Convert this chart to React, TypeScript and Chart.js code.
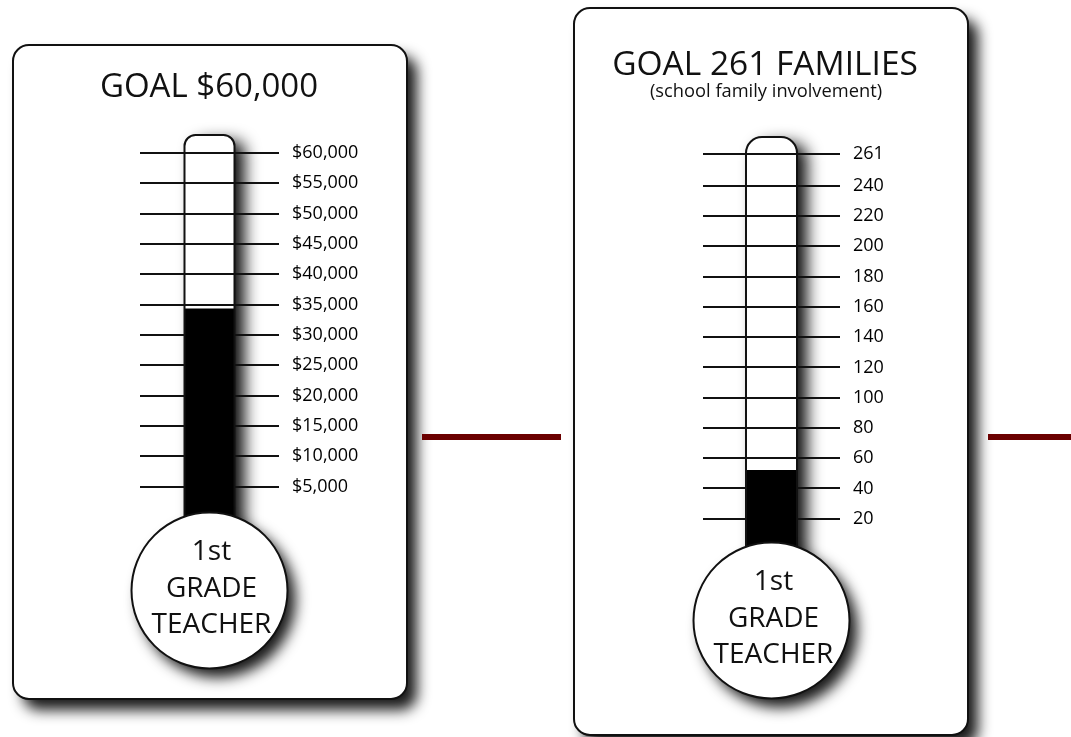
import { useEffect, useRef } from 'react';
import { Chart, registerables } from 'chart.js';

Chart.register(...registerables);

const W = 1071;
const H = 737;

// ---------------- data ----------------
const leftCategories = ['Raised'];
const leftValues = [34300];
const leftGoal = 60000;
const leftTickValues = [5000, 10000, 15000, 20000, 25000, 30000, 35000, 40000, 45000, 50000, 55000, 60000];
const leftTitle = 'GOAL $60,000';

const rightCategories = ['Families'];
const rightValues = [52];
const rightGoal = 261;
const rightTickValues = [20, 40, 60, 80, 100, 120, 140, 160, 180, 200, 220, 240, 261];
const rightTitle = 'GOAL 261 FAMILIES';
const rightSubtitle = '(school family involvement)';

const bulbLines = ['1st', 'GRADE', 'TEACHER'];

// ---------------- styling ----------------
const FONT = '"Open Sans", "Noto Sans", sans-serif';
const INK = '#111';
const RULE = '#6b0000';
const AXW = 130;

type Layout = {
  card: { x: number; y: number; w: number; h: number; r: number };
  plot: { left: number; right: number; top: number; bottom: number };
  barWidth: number;
  capH: number;
  capR: number;
  bulbCy: number;
  bulbR: number;
  title: { text: string; x: number; y: number; size: number };
  subtitle: { text: string; x: number; y: number; size: number } | null;
  rule: { x1: number; x2: number; y: number; h: number };
};

const leftLayout: Layout = {
  card: { x: 13, y: 45, w: 394, h: 654, r: 16 },
  plot: { left: 140, right: 279, top: 153, bottom: 517 },
  barWidth: 50,
  capH: 18,
  capR: 11,
  bulbCy: 590.5,
  bulbR: 78,
  title: { text: leftTitle, x: 209, y: 97, size: 33 },
  subtitle: null,
  rule: { x1: 422, x2: 561, y: 434, h: 6 },
};

const rightLayout: Layout = {
  card: { x: 574, y: 8, w: 394, h: 727, r: 16 },
  plot: { left: 703, right: 840, top: 154, bottom: 549 },
  barWidth: 51,
  capH: 17,
  capR: 16,
  bulbCy: 620.5,
  bulbR: 78,
  title: { text: rightTitle, x: 765, y: 75, size: 33.5 },
  subtitle: { text: rightSubtitle, x: 766, y: 97, size: 18.3 },
  rule: { x1: 988, x2: 1071, y: 434, h: 6 },
};

const bulbTextOffsets = [-30.5, 6.5, 42];

function roundRect(ctx: CanvasRenderingContext2D, x: number, y: number, w: number, h: number, r: number) {
  ctx.beginPath();
  ctx.moveTo(x + r, y);
  ctx.lineTo(x + w - r, y);
  ctx.arcTo(x + w, y, x + w, y + r, r);
  ctx.lineTo(x + w, y + h - r);
  ctx.arcTo(x + w, y + h, x + w - r, y + h, r);
  ctx.lineTo(x + r, y + h);
  ctx.arcTo(x, y + h, x, y + h - r, r);
  ctx.lineTo(x, y + r);
  ctx.arcTo(x, y, x + r, y, r);
  ctx.closePath();
}

function geom(chart: any, L: Layout) {
  const bar = chart.getDatasetMeta(0).data[0];
  const ys = chart.scales.y;
  const cx = bar.x;
  const half = L.barWidth / 2;
  return { cx, x1: cx - half, x2: cx + half, top: ys.getPixelForValue(ys.max) };
}

function tubePath(ctx: CanvasRenderingContext2D, g: any, L: Layout, close: boolean) {
  const ct = g.top - L.capH;
  const r = L.capR;
  ctx.beginPath();
  ctx.moveTo(g.x1, L.bulbCy);
  ctx.lineTo(g.x1, ct + r);
  ctx.arcTo(g.x1, ct, g.x1 + r, ct, r);
  ctx.lineTo(g.x2 - r, ct);
  ctx.arcTo(g.x2, ct, g.x2, ct + r, r);
  ctx.lineTo(g.x2, L.bulbCy);
  if (close) ctx.closePath();
}

function thermoPlugin(L: Layout) {
  return {
    id: 'thermo',
    beforeDraw(chart: any) {
      const ctx: CanvasRenderingContext2D = chart.ctx;
      const c = L.card;
      // card with drop shadow
      ctx.save();
      roundRect(ctx, c.x, c.y, c.w, c.h, c.r);
      ctx.shadowColor = 'rgba(0,0,0,0.9)';
      ctx.shadowBlur = 14;
      ctx.shadowOffsetX = 10;
      ctx.shadowOffsetY = 11;
      ctx.fillStyle = '#fff';
      ctx.fill();
      ctx.restore();
      ctx.save();
      roundRect(ctx, c.x, c.y, c.w, c.h, c.r);
      ctx.lineWidth = 2;
      ctx.strokeStyle = INK;
      ctx.stroke();
      // titles
      ctx.fillStyle = INK;
      ctx.textAlign = 'center';
      ctx.textBaseline = 'alphabetic';
      ctx.font = `500 ${L.title.size}px ${FONT}`;
      ctx.fillText(L.title.text, L.title.x, L.title.y);
      if (L.subtitle) {
        ctx.font = `500 ${L.subtitle.size}px ${FONT}`;
        ctx.fillText(L.subtitle.text, L.subtitle.x, L.subtitle.y);
      }
      // tube background + shadow
      const g = geom(chart, L);
      tubePath(ctx, g, L, true);
      ctx.shadowColor = 'rgba(0,0,0,0.95)';
      ctx.shadowBlur = 16;
      ctx.shadowOffsetX = 10;
      ctx.shadowOffsetY = 6;
      ctx.fillStyle = '#fff';
      ctx.fill();
      ctx.restore();
    },
    afterDatasetsDraw(chart: any) {
      const ctx: CanvasRenderingContext2D = chart.ctx;
      const g = geom(chart, L);
      ctx.save();
      // tube outline
      tubePath(ctx, g, L, false);
      ctx.lineWidth = 2;
      ctx.strokeStyle = INK;
      ctx.stroke();
      // bulb
      ctx.beginPath();
      ctx.arc(g.cx, L.bulbCy, L.bulbR, 0, Math.PI * 2);
      ctx.save();
      ctx.shadowColor = 'rgba(0,0,0,0.9)';
      ctx.shadowBlur = 14;
      ctx.shadowOffsetX = 8;
      ctx.shadowOffsetY = 9;
      ctx.fillStyle = '#fff';
      ctx.fill();
      ctx.restore();
      ctx.lineWidth = 2;
      ctx.strokeStyle = INK;
      ctx.stroke();
      ctx.fillStyle = INK;
      ctx.textAlign = 'center';
      ctx.textBaseline = 'alphabetic';
      ctx.font = `500 28px ${FONT}`;
      bulbLines.forEach((t, i) => {
        ctx.fillText(t, g.cx + 2, L.bulbCy + bulbTextOffsets[i]);
      });
      // connector rule
      ctx.fillStyle = RULE;
      ctx.fillRect(L.rule.x1, L.rule.y, L.rule.x2 - L.rule.x1, L.rule.h);
      ctx.restore();
    },
  };
}

function makeConfig(
  categories: string[],
  values: number[],
  goal: number,
  tickValues: number[],
  fmt: (v: number) => string,
  L: Layout
): any {
  return {
    type: 'bar',
    data: {
      labels: categories,
      datasets: [
        {
          data: values,
          backgroundColor: '#000',
          borderWidth: 0,
          barThickness: L.barWidth,
        },
      ],
    },
    options: {
      responsive: false,
      animation: false,
      devicePixelRatio: 1,
      layout: {
        padding: {
          left: L.plot.left,
          top: L.plot.top,
          right: W - L.plot.right - AXW,
          bottom: H - L.plot.bottom,
        },
      },
      plugins: {
        legend: { display: false },
        tooltip: { enabled: false },
        title: { display: false },
      },
      scales: {
        x: { display: false },
        y: {
          position: 'right',
          min: 0,
          max: goal,
          grid: { color: INK, lineWidth: 2, drawTicks: false },
          border: { display: false },
          ticks: {
            padding: 13,
            color: '#000',
            font: { family: FONT, size: 18, weight: '500' },
            callback: (v: any) => fmt(Number(v)),
          },
          afterBuildTicks: (s: any) => {
            s.ticks = tickValues.map((v) => ({ value: v }));
          },
          afterFit: (s: any) => {
            s.width = AXW;
          },
        },
      },
    },
    plugins: [thermoPlugin(L)],
  };
}

export default function App() {
  const r1 = useRef<HTMLCanvasElement>(null);
  const r2 = useRef<HTMLCanvasElement>(null);

  useEffect(() => {
    const c1 = new Chart(
      r1.current as HTMLCanvasElement,
      makeConfig(leftCategories, leftValues, leftGoal, leftTickValues, (v) => '$' + v.toLocaleString('en-US'), leftLayout)
    );
    const c2 = new Chart(
      r2.current as HTMLCanvasElement,
      makeConfig(rightCategories, rightValues, rightGoal, rightTickValues, (v) => String(v), rightLayout)
    );
    return () => {
      c1.destroy();
      c2.destroy();
    };
  }, []);

  return (
    <div style={{ position: 'fixed', left: 0, top: 0, width: W, height: H, background: '#fff', overflow: 'hidden' }}>
      <canvas ref={r1} width={W} height={H} style={{ position: 'absolute', left: 0, top: 0 }} />
      <canvas ref={r2} width={W} height={H} style={{ position: 'absolute', left: 0, top: 0 }} />
    </div>
  );
}
